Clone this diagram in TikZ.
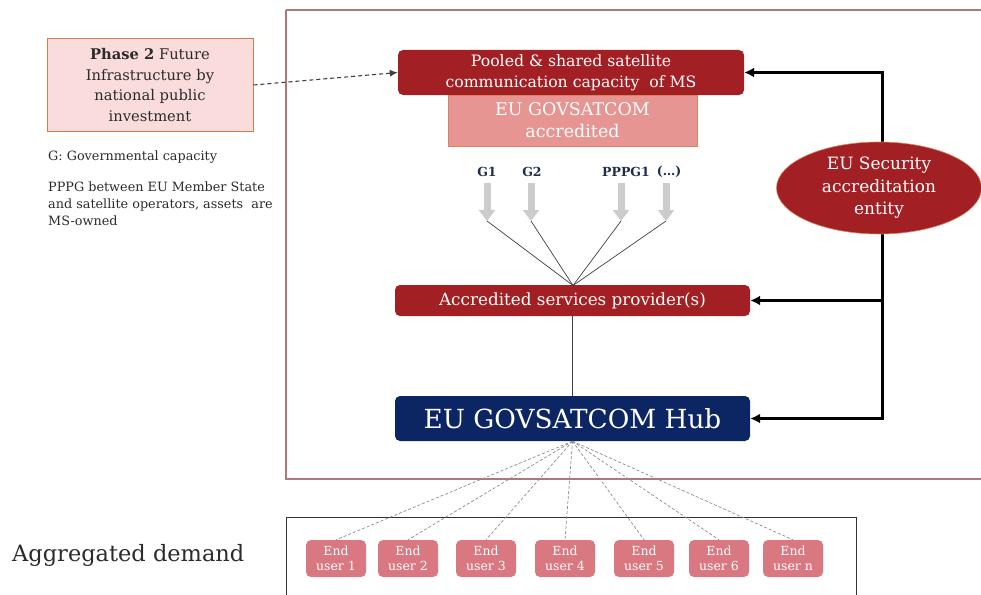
\documentclass[tikz,border=0pt]{standalone}
\usepackage{fontspec}
\setmainfont{DejaVu Serif}
\usetikzlibrary{arrows.meta,shapes.geometric}
\definecolor{darkred}{HTML}{A21F23}
\definecolor{salmon}{HTML}{E79592}
\definecolor{salmonedge}{HTML}{D9835F}
\definecolor{navy}{HTML}{0C2563}
\definecolor{pinkfill}{HTML}{FADCDD}
\definecolor{pinkedge}{HTML}{C8804F}
\definecolor{userfill}{HTML}{D97880}
\definecolor{framecol}{HTML}{B07878}
\definecolor{txt}{HTML}{2B2B2B}
\definecolor{glabel}{HTML}{1F2D4D}
\begin{document}
\begin{tikzpicture}[x=1pt,y=-1pt,
  redbox/.style={fill=darkred,draw=none,rounded corners=5pt,text=white,align=center,inner sep=0pt},
  userbox/.style={fill=userfill,draw=none,rounded corners=5pt,text=white,align=center,inner sep=0pt,
     minimum width=60pt,minimum height=37pt,font=\fontsize{12.5}{14.5}\selectfont},
  feed/.style={line width=3pt,-{Latex[length=10pt,width=10pt]}},
  grayarrow/.style={line width=7pt,draw=black!20,-{Triangle[width=16pt,length=11pt]}},
  fan/.style={draw=black!45,line width=0.7pt,dash pattern=on 3pt off 2pt},
  conv/.style={draw=black!75,line width=0.7pt},
  glab/.style={font=\bfseries\fontsize{12.5}{15}\selectfont,text=glabel,inner sep=0pt}]
\useasboundingbox (0,0) rectangle (981,594);
% frames
\draw[framecol,line width=1.2pt] (286,10) -- (981,10) (286,10) -- (286,479) -- (981,479);
\draw[black!80,line width=1pt] (286,600) -- (286,517) -- (856,517) -- (856,600);
% left side
\node[fill=pinkfill,draw=pinkedge,line width=1pt,minimum width=206pt,minimum height=92pt,inner sep=0pt,
  align=center,text=txt,font=\fontsize{14.7}{20.5}\selectfont] (phase) at (150,85)
  {\textbf{Phase 2} Future\\Infrastructure by\\national public\\investment};
\node[anchor=west,text=txt,font=\fontsize{12.8}{17}\selectfont,inner sep=0pt] (gtext) at (48,157) {G: Governmental capacity};
\node[anchor=north west,text=txt,font=\fontsize{12.8}{17}\selectfont,align=left,inner sep=0pt] (ppptext) at (48,182)
  {PPPG between EU Member State\\and satellite operators, assets\ \ are\\MS-owned};
\node[anchor=west,text=txt,font=\fontsize{22.5}{26}\selectfont,inner sep=0pt] (agg) at (12,555) {Aggregated demand};
% main boxes
\node[redbox,minimum width=346pt,minimum height=45pt,font=\fontsize{15.7}{21}\selectfont] (pooled) at (571,72.5)
  {Pooled \& shared satellite\\communication capacity\ \ of MS};
\node[fill=salmon,draw=salmonedge,line width=0.8pt,minimum width=249pt,minimum height=51pt,inner sep=0pt,
  text=white,align=center,font=\fontsize{17.5}{22}\selectfont] (accr) at (572.5,120.5) {EU GOVSATCOM\\accredited};
\node[redbox,minimum width=355pt,minimum height=31pt,font=\fontsize{16.8}{18}\selectfont] (asp) at (572.5,300.5)
  {Accredited services provider(s)};
\node[redbox,fill=navy,minimum width=355pt,minimum height=45pt,font=\fontsize{26.3}{30}\selectfont] (hub) at (572.5,418.5)
  {EU GOVSATCOM Hub};
% black feed lines (behind the ellipse)
\coordinate (vtop) at (882,72.5);
\coordinate (vmid) at (882,300.5);
\coordinate (vbot) at (882,418.5);
\draw[feed] (vbot) -- (vtop) -- (pooled.east);
\draw[feed] (vtop) -- (vbot) -- (hub.east);
\draw[feed] (vmid) -- (asp.east);
\node[ellipse,fill=darkred,draw=salmonedge,line width=0.6pt,minimum width=205pt,minimum height=92pt,inner sep=0pt,
  text=white,align=center,font=\fontsize{17}{22.5}\selectfont] (sec) at (879,188) {EU Security\\accreditation\\entity};
% G labels and gray arrows
\node[glab] (g1) at (487,172) {G1};
\node[glab] (g2) at (532,172) {G2};
\node[glab] (p1) at (626,172) {PPPG1};
\node[glab] (gdots) at (669,172) {(\ldots)};
\foreach \n/\x in {a1/487,a2/531,a3/621,a4/666}{
  \coordinate (\n s) at (\x,183);
  \coordinate (\n) at (\x,221);
  \draw[grayarrow] (\n s) -- (\n);
}
\coordinate (conv) at (573,285.5);
\foreach \n in {a1,a2,a3,a4}{\draw[conv] (\n) -- (conv);}
\draw[conv] (asp.south) -- (hub.north);
% dashed input arrow
\draw[line width=1.1pt,dash pattern=on 4pt off 3pt,black!75,-{Latex[length=8pt,width=7pt]}] (phase.east) -- (pooled.west);
% end users
\foreach \n/\x/\t in {u1/336/1,u2/408/2,u3/486/3,u4/565/4,u5/644/5,u6/719/6,un/793/n}{
  \node[userbox] (\n) at (\x,558.5) {End\\user \t};
  \draw[fan] (hub.south) -- (\n.north);
}
\end{tikzpicture}
\end{document}
